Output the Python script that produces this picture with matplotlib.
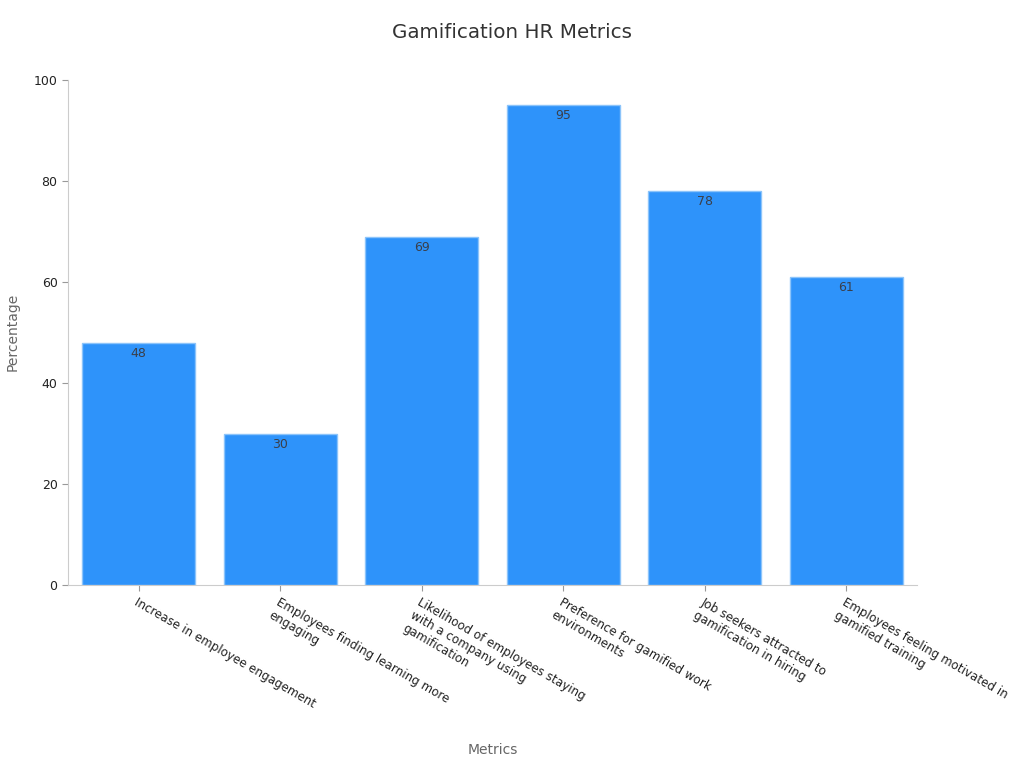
import matplotlib
matplotlib.use("Agg")
import matplotlib.pyplot as plt
import matplotlib.transforms as mtransforms

categories = [
    "Increase in employee engagement",
    "Employees finding learning more\nengaging",
    "Likelihood of employees staying\nwith a company using\ngamification",
    "Preference for gamified work\nenvironments",
    "Job seekers attracted to\ngamification in hiring",
    "Employees feeling motivated in\ngamified training",
]
values = [48, 30, 69, 95, 78, 61]
yticks = [0, 20, 40, 60, 80, 100]

plt.rcParams['font.family'] = ['DejaVu Sans']
fig = plt.figure(figsize=(10.24, 7.68), dpi=100)
ax = fig.add_axes([68/1024, 1-585/768, (917-68)/1024, (585-80)/768])

x = list(range(len(categories)))
bars = ax.bar(x, values, width=0.8, color="#2E93FA", edgecolor="#8CC4FA", linewidth=1)
for xi, v in zip(x, values):
    ax.annotate(str(v), (xi, v), xytext=(0, -3), textcoords="offset points",
                ha="center", va="top", fontsize=9, color="#3a3f4a")

ax.set_xlim(-0.5, 5.5)
ax.set_ylim(0, 100)
ax.set_yticks(yticks)
ax.set_xticks(x)
ax.set_xticklabels(categories, rotation=-30, ha="left", va="top",
                   rotation_mode="anchor", fontsize=8.6, color="#222222")
offset = mtransforms.ScaledTranslation(3/100, 0, fig.dpi_scale_trans)
for lbl in ax.get_xticklabels():
    lbl.set_transform(lbl.get_transform() + offset)
ax.tick_params(axis="y", labelsize=9, labelcolor="#222222", color="#999999", length=4)
ax.tick_params(axis="x", color="#999999", length=4)
for s in ["top", "right"]:
    ax.spines[s].set_visible(False)
for s in ["left", "bottom"]:
    ax.spines[s].set_color("#cccccc")

ax.set_ylabel("Percentage", fontsize=10, color="#666666")
ax.set_xlabel("Metrics", fontsize=10, color="#666666")
ax.xaxis.set_label_coords((493-68)/(917-68), -(743-585)/(585-80))
ax.yaxis.set_label_coords(-(68-20)/(917-68), (585-332)/(585-80))
fig.text(512/1024, 1-33/768, "Gamification HR Metrics", ha="center", va="center",
         fontsize=14.3, color="#333333")

fig.savefig("out.png", dpi=100)
